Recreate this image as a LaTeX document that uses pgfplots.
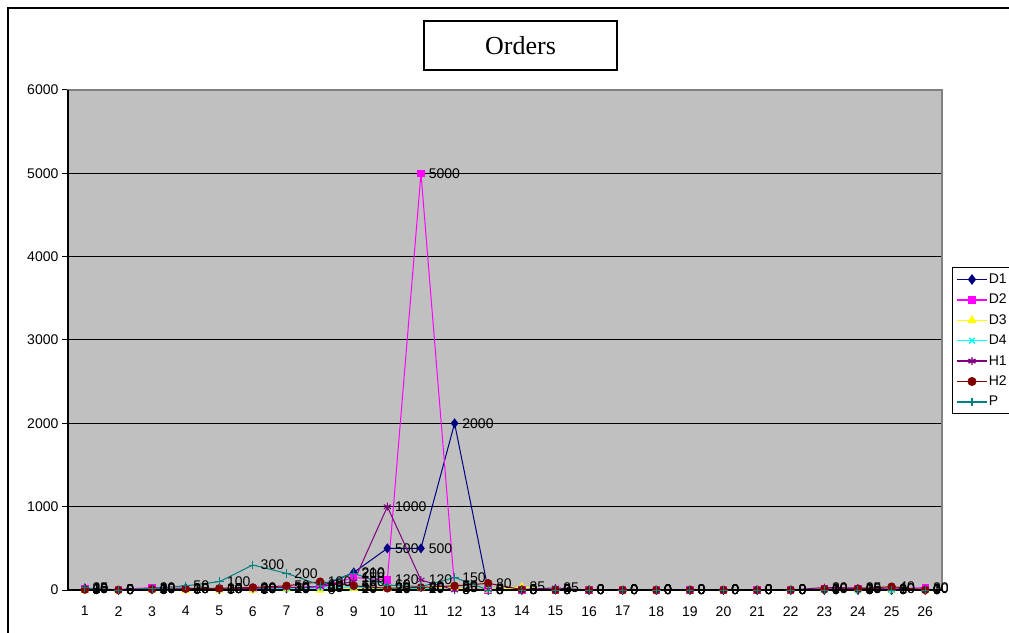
\documentclass[border=0pt]{standalone}
\usepackage{pgfplots}
\pgfplotsset{compat=1.18}
\usepackage{pgfplotstable}
\usepackage{fontspec}
\setmainfont{Liberation Sans}
\newfontfamily\titlefont{Liberation Serif}

\definecolor{areagray}{HTML}{C0C0C0}
\definecolor{edgegray}{HTML}{808080}
\definecolor{cD1}{HTML}{000080}
\definecolor{cD2}{HTML}{FF00FF}
\definecolor{cD3}{HTML}{FFFF00}
\definecolor{cD4}{HTML}{00FFFF}
\definecolor{cH1}{HTML}{800080}
\definecolor{cH2}{HTML}{800000}
\definecolor{cP}{HTML}{008080}

\pgfkeys{/pgf/number format/assume math mode=true,/pgf/number format/1000 sep={}}

% Orders per period and department
\pgfplotstableread{
x  D1   D2   D3  D4  H1   H2  P
1  20   10   0   10  15   5   25
2  0    5    0   0   0    0   0
3  10   30   0   10  0    10  20
4  20   20   0   20  10   15  50
5  10   15   0   10  10   20  100
6  20   20   0   20  20   30  300
7  20   30   10  20  30   50  200
8  40   40   0   25  40   100 60
9  210  150  20  30  100  50  200
10 500  120  20  25  1000 20  60
11 500  5000 30  20  120  30  40
12 2000 25   25  5   0    50  150
13 0    0    0   5   5    80  0
14 0    0    35  0   5    5   0
15 5    0    0   5   25   0   0
16 0    0    0   0   0    0   0
17 0    0    0   0   0    0   0
18 0    0    0   0   0    0   0
19 0    0    0   0   0    0   0
20 0    0    0   0   0    0   0
21 0    0    0   0   0    0   0
22 0    0    0   0   0    0   0
23 0    10   0   0   30   10  0
24 0    20   0   0   25   15  0
25 0    10   0   0   10   40  0
26 0    30   0   0   10   0   0
}\orders

\begin{document}
\begin{tikzpicture}
\clip (0,0) rectangle (756.75pt,474pt);
% chart frame (pixel coordinates, y downwards)
\begin{scope}[x=0.75pt,y=-0.75pt,shift={(0,474pt)}]
  \fill[white] (0,0) rectangle (1009,632);
  \draw[black,line width=0.9pt] (8,8) rectangle (1030,660);
\end{scope}
\begin{axis}[
  at={(51pt,31.5pt)}, anchor=south west,
  scale only axis,
  width=655.5pt, height=375pt,
  xmin=0.5, xmax=26.5,
  ymin=0, ymax=6000,
  xtick={1,...,26},
  ytick={0,1000,...,6000},
  ytick pos=left,
  ymajorgrids,
  grid style={black,line width=0.75pt},
  axis background/.style={fill=areagray},
  axis line style={edgegray,line width=1.2pt},
  x tick style={draw=none},
  y tick style={black,line width=0.75pt},
  tick align=outside,
  major tick length=4.5pt,
  tick label style={font=\fontsize{10.5}{12}\selectfont},
  xticklabel style={yshift=-4pt},
  yticklabel style={xshift=1pt},
  scaled y ticks=false,
  clip=false,
  line width=0.75pt,
  nodes near coords,
  every node near coord/.append style={anchor=west,black,inner sep=1pt,xshift=4.5pt,
    font=\fontsize{10.5}{12}\selectfont},
  legend style={at={(1.0114,0.646)},anchor=north west,fill=white,
    font=\fontsize{10.5}{12}\selectfont,
    inner xsep=3pt,inner ysep=3pt,row sep=3.3pt,
    nodes={inner sep=1pt,text height=8pt,text depth=2pt,text width=22pt}},
  legend cell align=left,
  legend image code/.code={\draw[mark repeat=2,mark phase=2,line width=1.1pt]
    plot coordinates {(0cm,0cm) (0.39cm,0cm) (0.78cm,0cm)};},
]
\addplot[color=cD1,draw=cD1,mark=diamond*,mark size=3.2pt,mark options={solid,fill=cD1}] table[x=x,y=D1]{\orders};
\addlegendentry{D1}
\addplot[color=cD2,draw=cD2,mark=square*,mark size=2.4pt,mark options={solid,fill=cD2}] table[x=x,y=D2]{\orders};
\addlegendentry{D2}
\addplot[color=cD3,draw=cD3,mark=triangle*,mark size=3pt,mark options={solid,fill=cD3}] table[x=x,y=D3]{\orders};
\addlegendentry{D3}
\addplot[color=cD4,draw=cD4,mark=x,mark size=3pt,mark options={solid}] table[x=x,y=D4]{\orders};
\addlegendentry{D4}
\addplot[color=cH1,draw=cH1,mark=asterisk,mark size=3pt,mark options={solid}] table[x=x,y=H1]{\orders};
\addlegendentry{H1}
\addplot[color=cH2,draw=cH2,mark=*,mark size=2.8pt,mark options={solid,fill=cH2}] table[x=x,y=H2]{\orders};
\addlegendentry{H2}
\addplot[color=cP,draw=cP,mark=+,mark size=3.2pt,mark options={solid}] table[x=x,y=P]{\orders};
\addlegendentry{P}
% value axis and category axis lines
\draw[black,line width=1pt] (axis cs:0.5,6000) -- (axis cs:0.5,0) -- (axis cs:26.5,0);
\end{axis}
\begin{scope}[x=0.75pt,y=-0.75pt,shift={(0,474pt)}]
  \draw[black,line width=1.2pt,fill=white] (424,21) rectangle (617,70);
  \node[font=\titlefont\fontsize{19.5}{22}\selectfont] at (520.5,46) {Orders};
\end{scope}
\end{tikzpicture}
\end{document}
